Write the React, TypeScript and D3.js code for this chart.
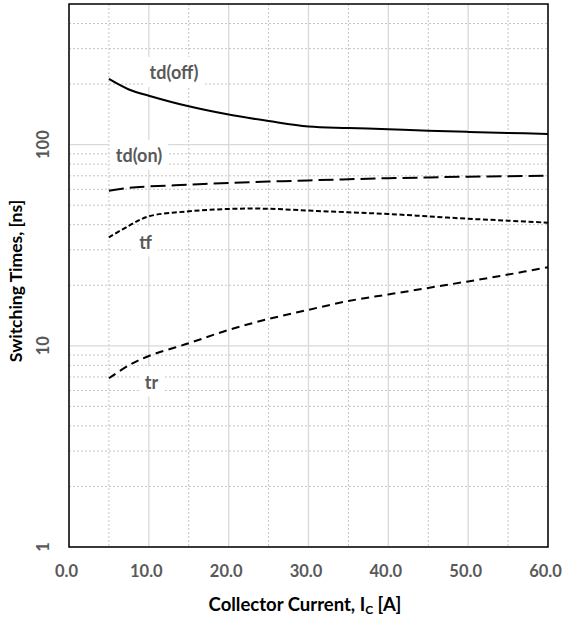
import React, { useEffect, useRef } from "react";
import * as d3 from "d3";

const current = [5, 7.5, 10, 15, 20, 25, 30, 35, 40, 45, 50, 55, 60];
const tdOff = [212, 188, 175, 155, 141, 131, 123, 121, 119.3, 117.3, 115.7, 114.3, 113];
const tdOn = [59, 61, 62, 63.2, 64.5, 65.5, 66.4, 67.3, 68.1, 68.7, 69.3, 69.7, 70.1];
const tf = [34.6, 39.5, 44, 46.6, 47.9, 48, 47, 46.1, 45.2, 44, 42.8, 41.9, 40.9];
const tr = [6.9, 8.0, 8.9, 10.3, 12.0, 13.6, 15.1, 16.7, 18.0, 19.4, 20.9, 22.6, 24.6];

const xTicks = [0, 10, 20, 30, 40, 50, 60];
const xMinor = [5, 15, 25, 35, 45, 55];
const yTicks = [1, 10, 100];
const yMinor = [2, 3, 4, 5, 6, 7, 8, 9, 20, 30, 40, 50, 60, 70, 80, 90, 200, 300, 400];

const seriesNames = ["td(off)", "td(on)", "tf", "tr"];
const seriesData = [tdOff, tdOn, tf, tr];

const W = 562;
const H = 618;
const L = 69, R = 548, T = 4, B = 547;
const FONT = "Lato, 'Open Sans', sans-serif";

const dashes = [null, "15,6", "5,2.6", "8,5.3"];
const labelPos: [number, number][] = [
  [174, 72],
  [139, 155],
  [145.5, 241.5],
  [151.5, 381.5],
];

export default function App() {
  const ref = useRef<SVGSVGElement>(null);
  useEffect(() => {
    const svg = d3.select(ref.current!);
    svg.selectAll("*").remove();
    const x = d3.scaleLinear().domain([0, 60]).range([L, R]);
    const y = d3.scaleLog().domain([1, 500]).range([B, T]);

    const g = svg.append("g");
    g.selectAll(".xm").data(xMinor).join("line")
      .attr("x1", (d) => x(d)).attr("x2", (d) => x(d)).attr("y1", T).attr("y2", B)
      .attr("stroke", "#c4c4c4").attr("stroke-width", 1).attr("stroke-dasharray", "2,2");
    g.selectAll(".ym").data(yMinor).join("line")
      .attr("x1", L).attr("x2", R).attr("y1", (d) => y(d)).attr("y2", (d) => y(d))
      .attr("stroke", "#c4c4c4").attr("stroke-width", 1).attr("stroke-dasharray", "2,2");
    g.selectAll(".xM").data(xTicks).join("line")
      .attr("x1", (d) => x(d)).attr("x2", (d) => x(d)).attr("y1", T).attr("y2", B)
      .attr("stroke", "#d9d9d9").attr("stroke-width", 1.3);
    g.selectAll(".yM").data(yTicks).join("line")
      .attr("x1", L).attr("x2", R).attr("y1", (d) => y(d)).attr("y2", (d) => y(d))
      .attr("stroke", "#d9d9d9").attr("stroke-width", 1.3);

    const line = d3.line<number>()
      .x((_, i) => x(current[i]))
      .y((d) => y(d))
      .curve(d3.curveCatmullRom.alpha(0.5));

    seriesData.forEach((s, i) => {
      const p = g.append("path").attr("d", line(s)!)
        .attr("fill", "none").attr("stroke", "#000").attr("stroke-width", 2);
      if (dashes[i]) p.attr("stroke-dasharray", dashes[i]!);
    });

    seriesNames.forEach((name, i) => {
      const [cx, cy] = labelPos[i];
      const lg = g.append("g");
      const rect = lg.append("rect").attr("fill", "#fff");
      const t = lg.append("text").attr("x", cx).attr("y", cy)
        .attr("text-anchor", "middle").attr("dominant-baseline", "central")
        .attr("font-family", FONT).attr("font-weight", "bold").attr("font-size", 18)
        .attr("fill", "#595959").text(name);
      const bb = (t.node() as SVGTextElement).getBBox();
      rect.attr("x", bb.x - 6).attr("y", bb.y - 4).attr("width", bb.width + 12).attr("height", bb.height + 8);
    });

    g.append("rect").attr("x", L).attr("y", T).attr("width", R - L).attr("height", B - T)
      .attr("fill", "none").attr("stroke", "#000").attr("stroke-width", 1.5);

    g.selectAll(".xl").data(xTicks).join("text")
      .attr("x", (d) => x(d) - 2.5).attr("y", 571)
      .attr("text-anchor", "middle").attr("dominant-baseline", "central")
      .attr("font-family", FONT).attr("font-weight", "bold").attr("font-size", 16.5)
      .attr("fill", "#595959").text((d) => d.toFixed(1));
    g.selectAll(".yl").data(yTicks).join("text")
      .attr("transform", (d) => `translate(43,${y(d)}) rotate(-90)`)
      .attr("text-anchor", "middle").attr("dominant-baseline", "central")
      .attr("font-family", FONT).attr("font-weight", "bold").attr("font-size", 16.5)
      .attr("fill", "#595959").text((d) => String(d));

    g.append("text").attr("transform", "translate(15,281) rotate(-90)")
      .attr("text-anchor", "middle").attr("dominant-baseline", "central")
      .attr("font-family", FONT).attr("font-weight", "bold").attr("font-size", 17.5)
      .attr("fill", "#000").text("Switching Times, [ns]");
    const xt = g.append("text").attr("x", 305).attr("y", 604)
      .attr("text-anchor", "middle").attr("dominant-baseline", "central")
      .attr("font-family", FONT).attr("font-weight", "bold").attr("font-size", 18.5)
      .attr("fill", "#000");
    xt.append("tspan").text("Collector Current, I");
    xt.append("tspan").attr("font-size", 12).attr("dy", 5).text("C");
    xt.append("tspan").attr("dy", -5).text(" [A]");
  }, []);
  return (
    <svg ref={ref} width={W} height={H} style={{ position: "absolute", left: 0, top: 0, background: "#fff" }} />
  );
}
